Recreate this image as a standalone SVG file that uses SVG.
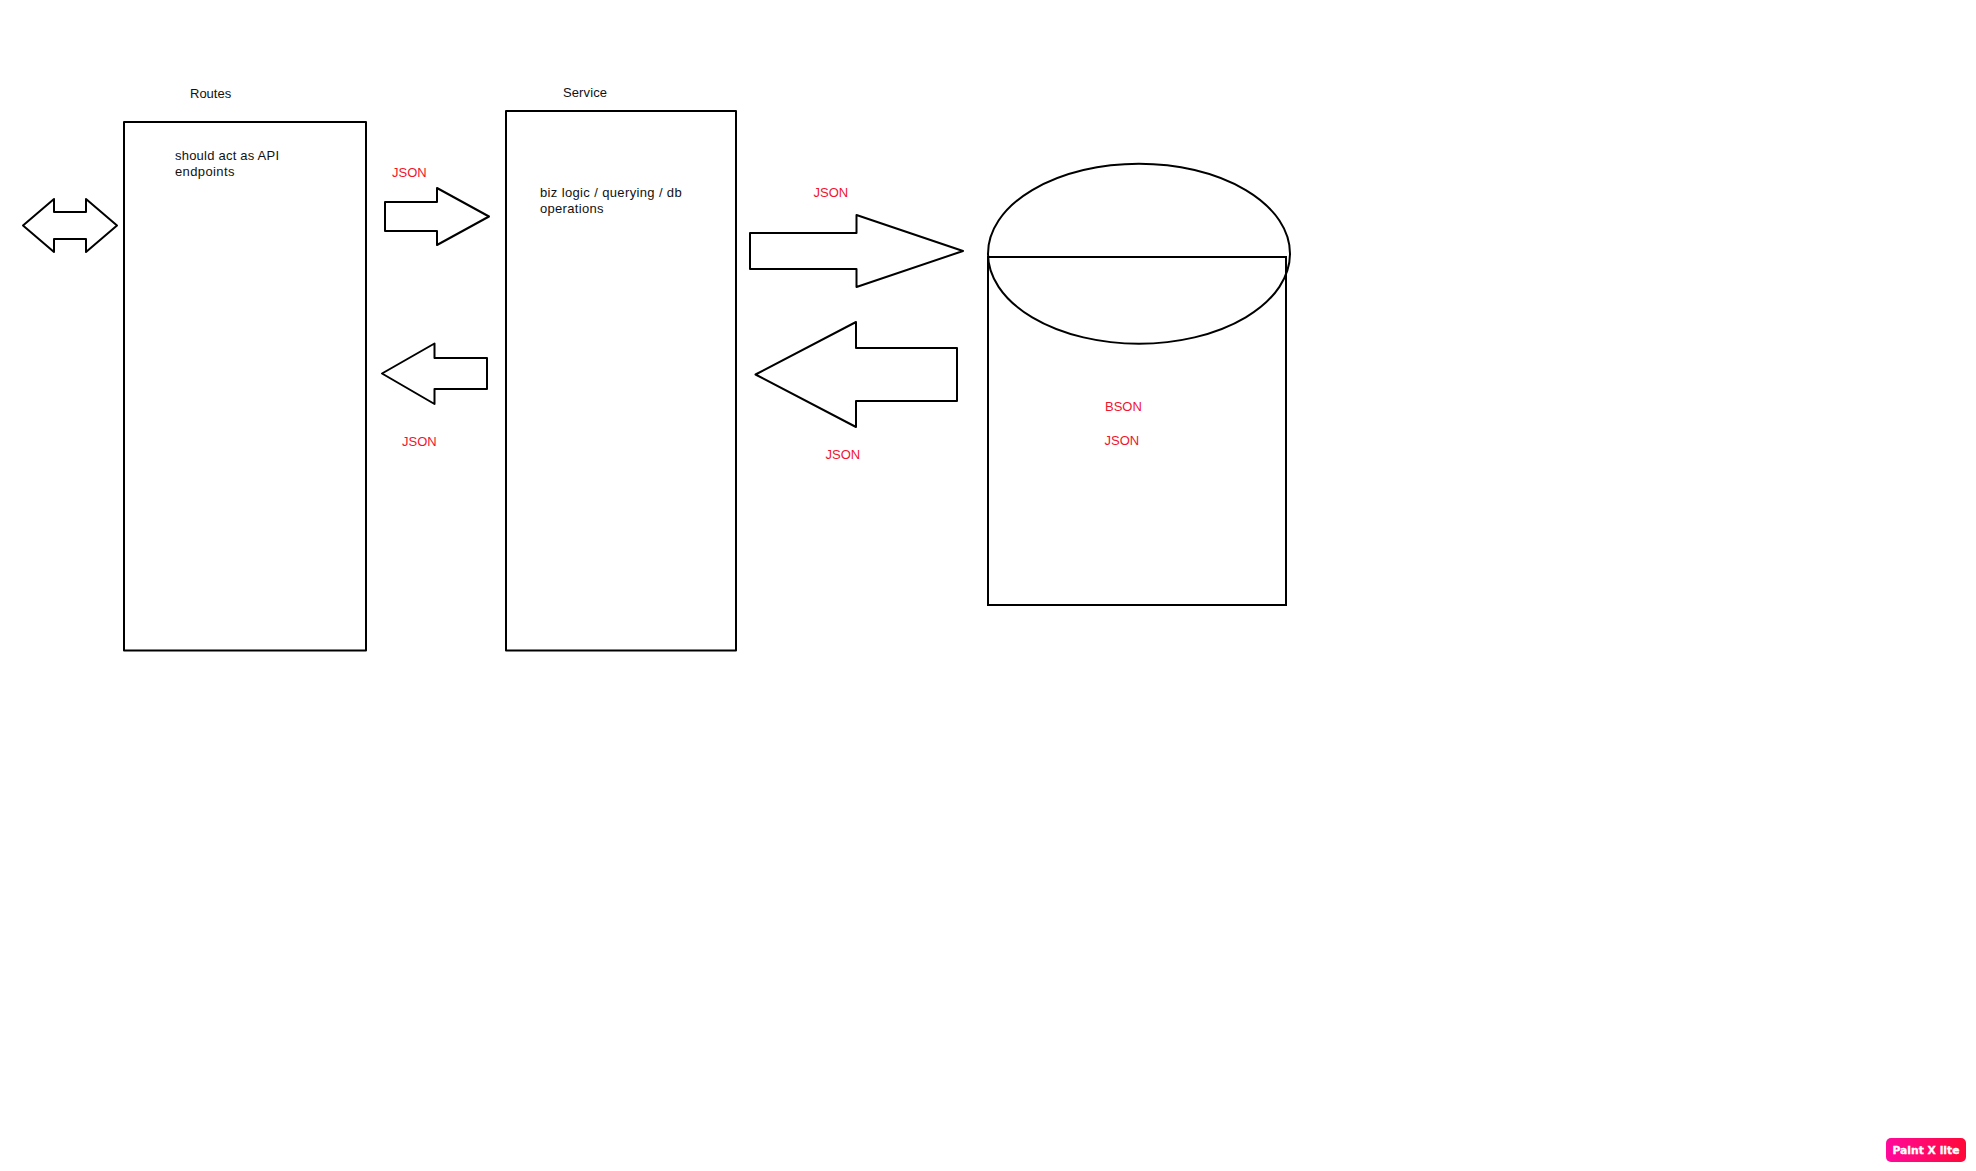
<svg xmlns="http://www.w3.org/2000/svg" width="1976" height="1171" viewBox="0 0 1976 1171">
<style>
.s{fill:#fff;stroke:#000;stroke-width:2;stroke-linejoin:round}
.o{fill:none;stroke:#000;stroke-width:2}
text{font-family:"Liberation Sans",Arial,sans-serif;font-size:13px;fill:#111}
.r{fill:#f0142d}
.b{font-family:"DejaVu Sans",sans-serif;font-weight:700;font-size:10.5px;fill:#fff;stroke:#fff;stroke-width:.3}
</style>
<defs><linearGradient id="g"><stop offset="0" stop-color="#ff0a9c"/><stop offset="1" stop-color="#ff0838"/></linearGradient></defs>
<rect width="1976" height="1171" fill="#fff"/>
<g id="routes">
<rect class="s" x="124" y="122" width="242" height="528.500"/>
<text x="190" y="98">Routes</text>
<text x="175" y="160" textLength="104">should act as API</text>
<text x="175" y="176" textLength="59.500">endpoints</text>
</g>
<g id="service">
<rect class="s" x="506" y="111" width="230" height="539.500"/>
<text x="563" y="97" textLength="44">Service</text>
<text x="540" y="197" textLength="141.700">biz logic / querying / db</text>
<text x="540" y="213" textLength="63.500">operations</text>
</g>
<g id="database">
<ellipse class="o" cx="1139" cy="253.700" rx="151" ry="90"/>
<rect class="o" x="988" y="257" width="298" height="348"/>
<text class="r" x="1105" y="411">BSON</text>
<text class="r" x="1104.500" y="445">JSON</text>
</g>
<g id="connectors">
<path class="s" d="M23 225.500L54 199V212H86V199L117 225.500L86 252V239H54V252Z"/>
<path class="s" d="M385 202H437V188L489 216.500L437 245V231H385Z"/>
<path class="s" d="M382 373.500L434.500 343.500V358H487V389H434.500V404Z"/>
<path class="s" d="M750 233H856.500V215L963 251L856.500 287V269H750Z"/>
<path class="s" d="M755.500 374.500L856 322V348H957V401H856V427Z"/>
</g>
<g id="labels">
<text class="r" x="392" y="177">JSON</text>
<text class="r" x="402" y="446">JSON</text>
<text class="r" x="813.500" y="197">JSON</text>
<text class="r" x="825.500" y="459">JSON</text>
</g>
<g id="badge">
<rect x="1886" y="1138" width="80" height="24" rx="5" fill="url(#g)"/>
<text class="b" x="1892.500" y="1154" textLength="67" lengthAdjust="spacingAndGlyphs">Paint X lite</text>
</g>
</svg>
